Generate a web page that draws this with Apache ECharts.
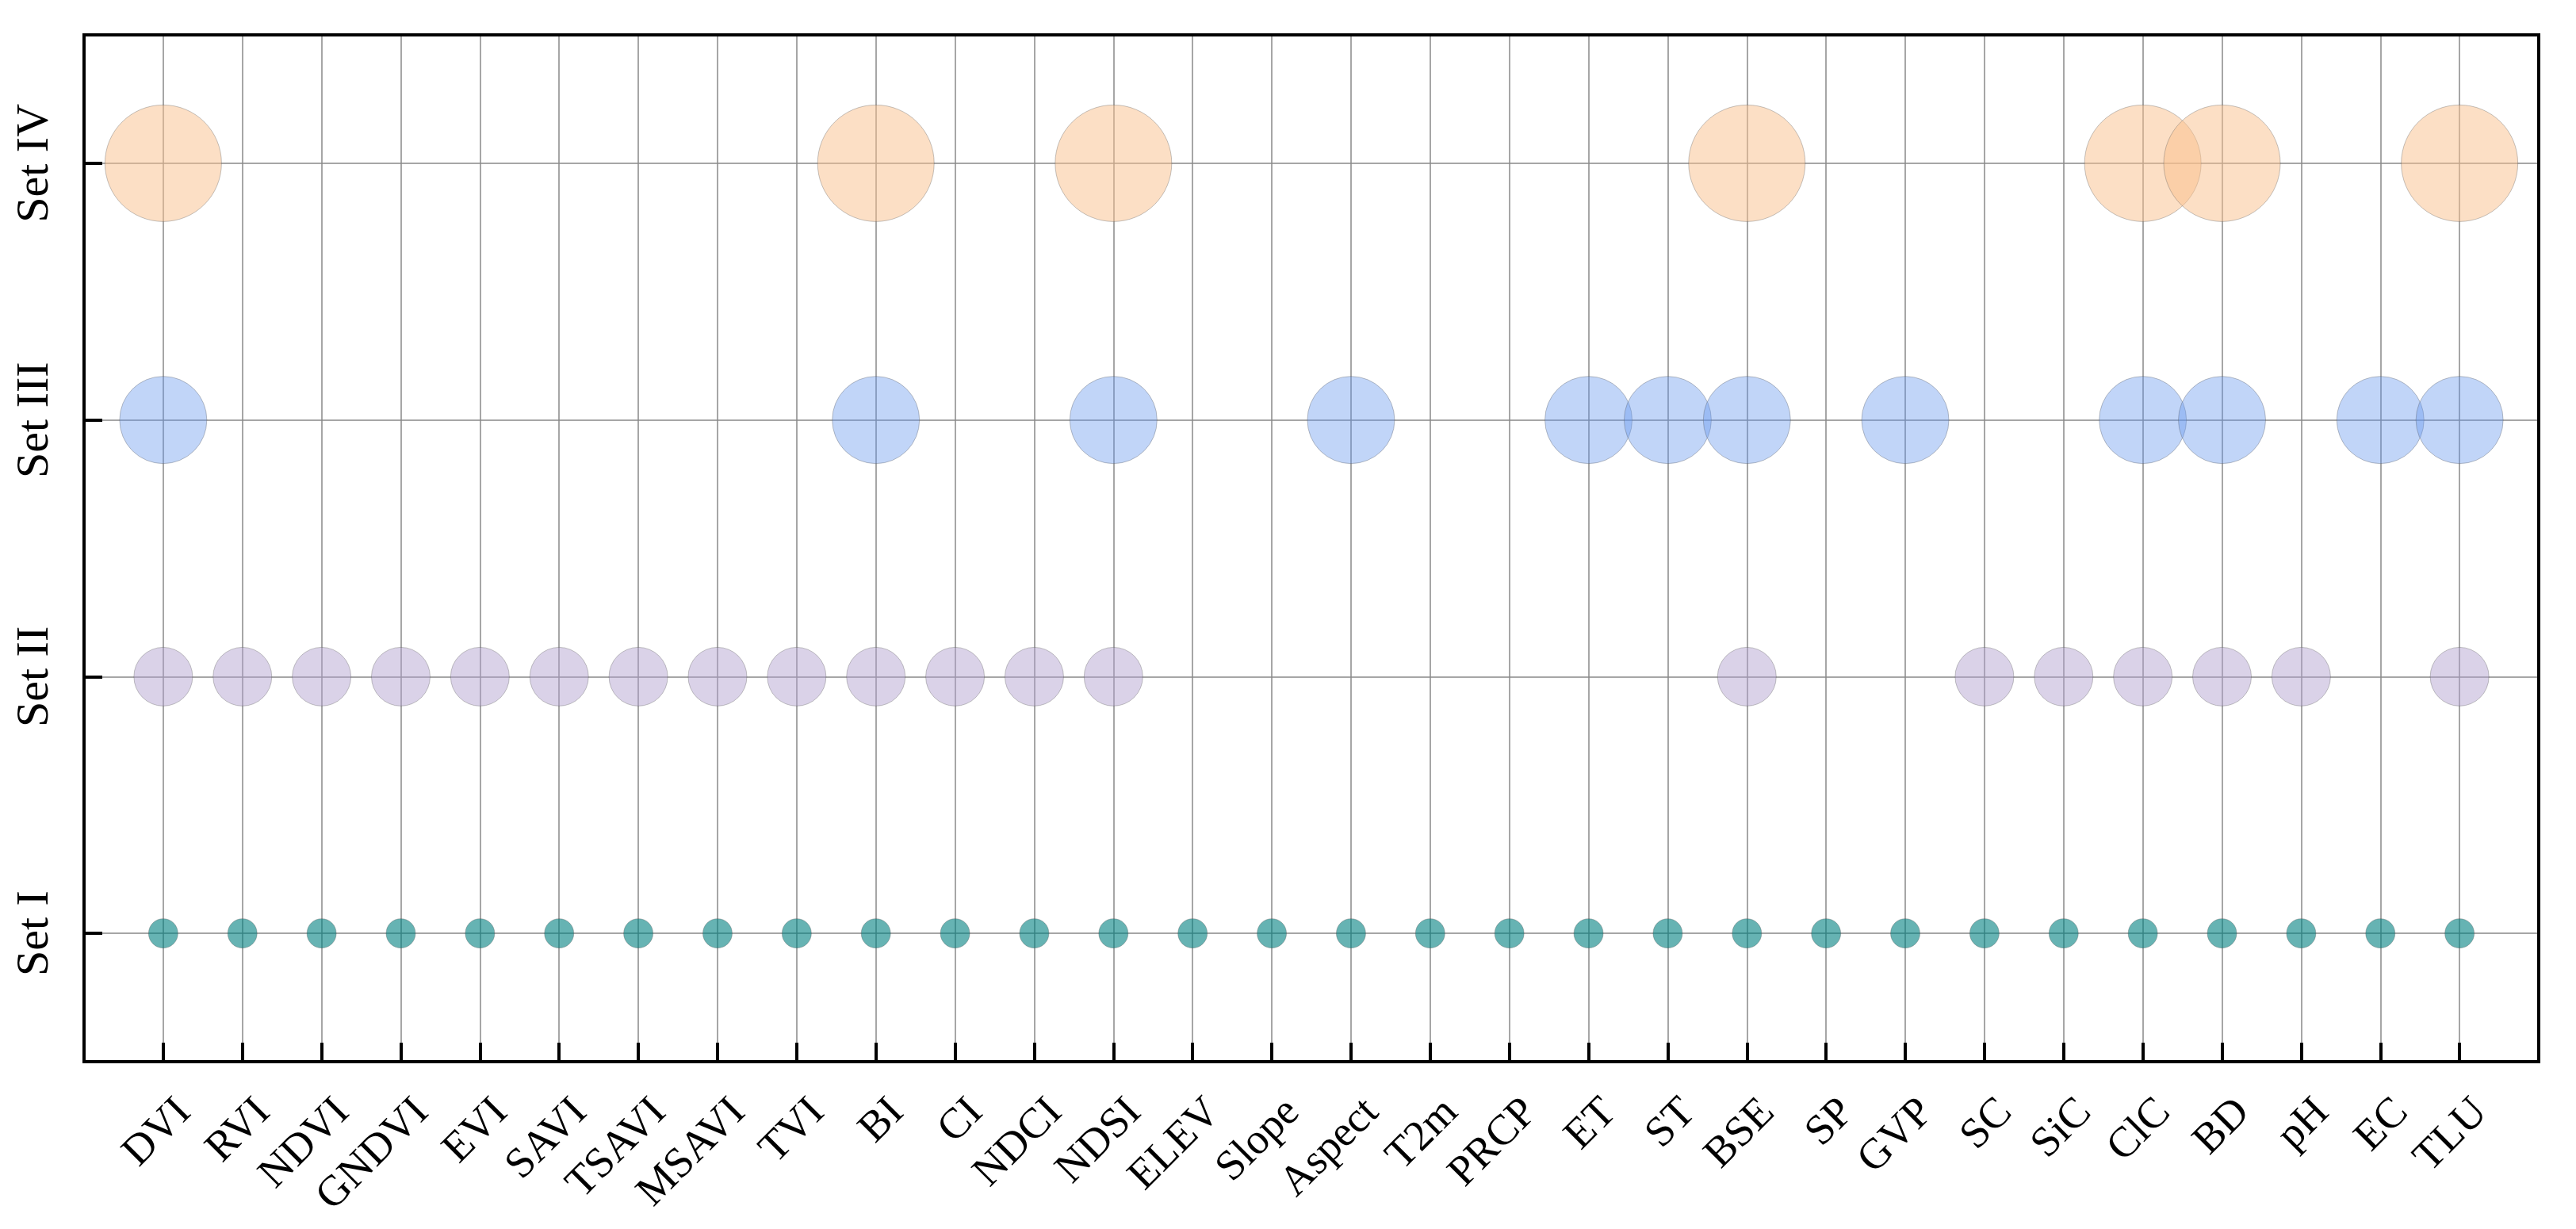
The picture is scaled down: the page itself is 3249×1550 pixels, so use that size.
<!DOCTYPE html>
<html>
<head>
<meta charset="utf-8">
<script src="https://cdn.jsdelivr.net/npm/echarts@6/dist/echarts.min.js"></script>
<style>
html,body{margin:0;padding:0;background:#fff;}
#chart{width:3249px;height:1550px;}
</style>
</head>
<body>
<div id="chart"></div>
<script>
// ---- data ----
const categories = ['DVI','RVI','NDVI','GNDVI','EVI','SAVI','TSAVI','MSAVI','TVI','BI','CI','NDCI','NDSI',
  'ELEV','Slope','Aspect','T2m','PRCP','ET','ST','BSE','SP','GVP','SC','SiC','ClC','BD','pH','EC','TLU'];
const setNames = ['Set I','Set II','Set III','Set IV'];
const setI = categories.slice();
const setII = ['DVI','RVI','NDVI','GNDVI','EVI','SAVI','TSAVI','MSAVI','TVI','BI','CI','NDCI','NDSI',
  'BSE','SC','SiC','ClC','BD','pH','TLU'];
const setIII = ['DVI','BI','NDSI','Aspect','ET','ST','BSE','GVP','ClC','BD','EC','TLU'];
const setIV = ['DVI','BI','NDSI','BSE','ClC','BD','TLU'];
const members = [setI, setII, setIII, setIV];

// ---- axes helpers ----
const xData = [''].concat(categories, ['']);
const yData = [''];
setNames.forEach(s => { yData.push(s); yData.push(''); });
const notBlank = (i, v) => v !== '';

const colors = ['rgba(0,128,128,0.6)', 'rgba(178,160,206,0.48)', 'rgba(100,149,237,0.4)', 'rgba(249,192,140,0.5)'];
const sizes = [37, 74, 110, 147];

const series = members.map((arr, k) => ({
  type: 'scatter',
  name: setNames[k],
  symbol: 'circle',
  symbolSize: sizes[k],
  silent: true,
  itemStyle: { color: colors[k], opacity: 1, borderColor: 'rgba(90,90,90,0.35)', borderWidth: 1 },
  emphasis: { disabled: true },
  data: arr.map(c => [c, setNames[k]])
}));

const FONT = '"Liberation Serif", "Times New Roman", serif';
const chart = echarts.init(document.getElementById('chart'), null, { renderer: 'canvas' });
chart.setOption({
  backgroundColor: '#fff',
  animation: false,
  textStyle: { fontFamily: FONT, color: '#000' },
  grid: { left: 106, right: 47, top: 44, bottom: 211, show: true, z: 10,
    backgroundColor: 'transparent', borderColor: '#000', borderWidth: 4 },
  xAxis: {
    type: 'category', data: xData, boundaryGap: false,
    axisLine: { show: false },
    axisTick: { show: true, inside: true, length: 24, interval: notBlank,
      lineStyle: { color: '#000', width: 4 } },
    splitLine: { show: true, interval: notBlank, lineStyle: { color: '#888', width: 1.5 } },
    axisLabel: { interval: 0, rotate: 45, margin: 29, align: 'right', verticalAlign: 'top',
      padding: [11, 0, 0, 0], fontSize: 54, fontFamily: FONT, color: '#000' }
  },
  yAxis: {
    type: 'category', data: yData, boundaryGap: false,
    axisLine: { show: false },
    axisTick: { show: true, inside: true, length: 23, interval: notBlank,
      lineStyle: { color: '#000', width: 4 } },
    splitLine: { show: true, interval: notBlank, lineStyle: { color: '#888', width: 1.5 } },
    axisLabel: { interval: 0, rotate: 90, margin: 32, fontSize: 58, fontFamily: FONT, color: '#000' }
  },
  series: series
});
</script>
</body>
</html>
